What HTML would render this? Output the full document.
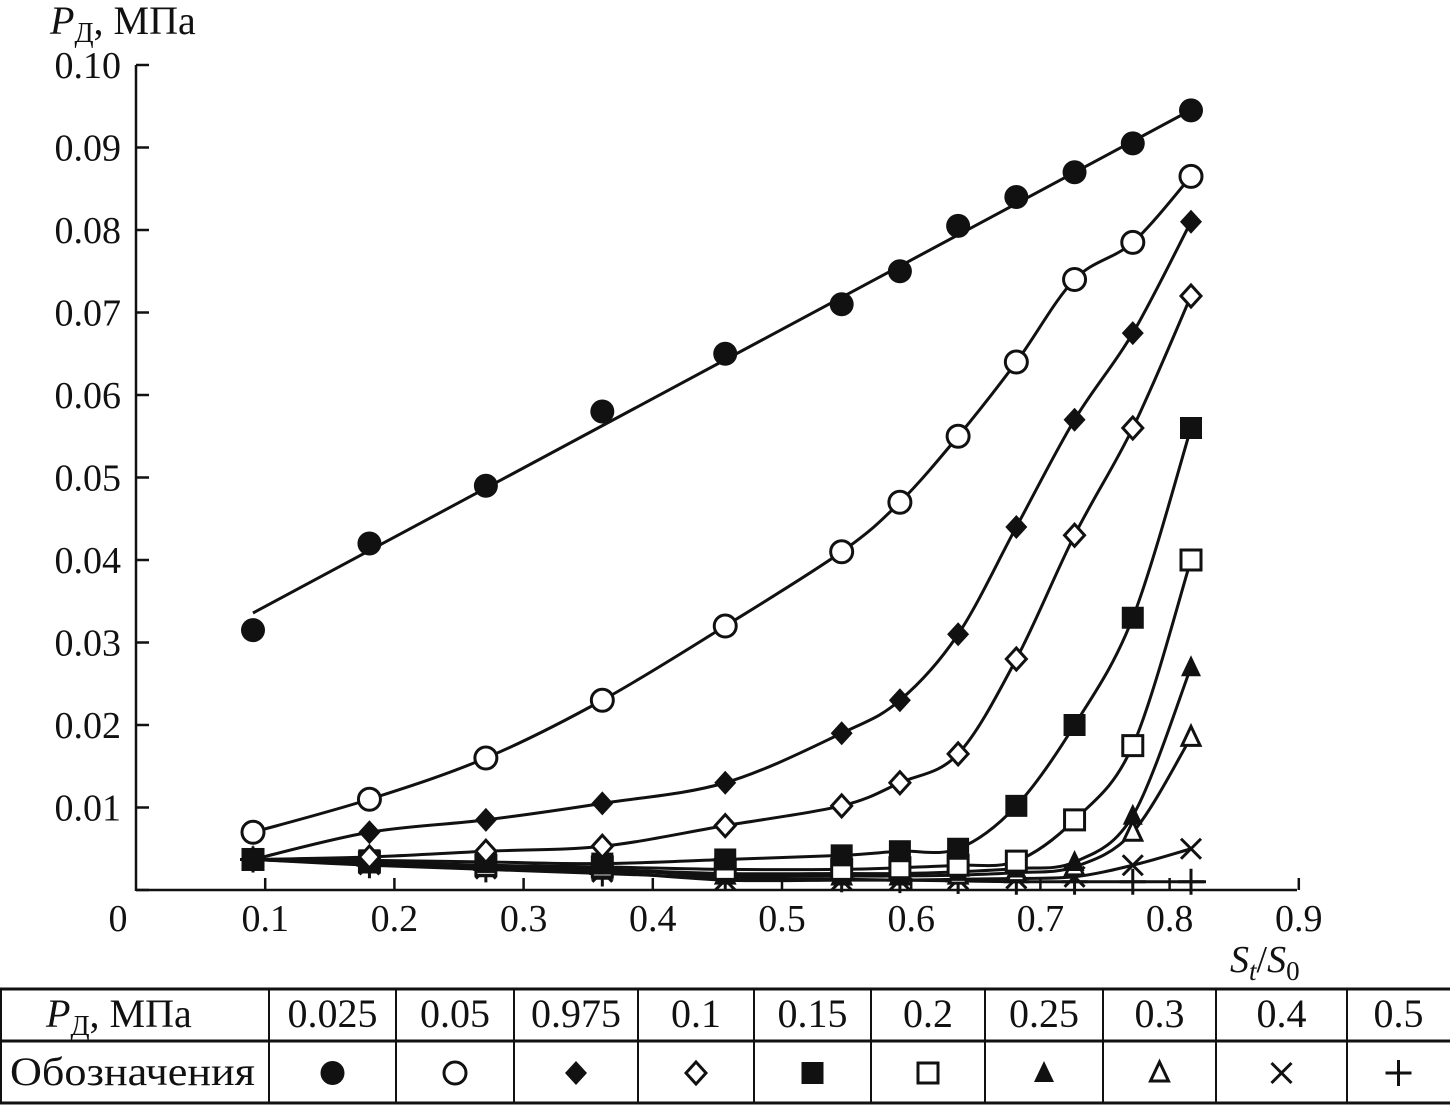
<!DOCTYPE html>
<html><head><meta charset="utf-8"><style>
html,body{margin:0;padding:0;background:#fff;}
svg{display:block;}
text{font-family:"Liberation Serif",serif;fill:#111;}
</style></head><body>
<svg id="s" width="1450" height="1105" viewBox="0 0 1450 1105" xmlns="http://www.w3.org/2000/svg">
<g stroke="#111" stroke-width="2.5" fill="none">
<line x1="136" y1="65" x2="136" y2="891"/>
<line x1="136" y1="890" x2="1297" y2="890"/>
</g>
<g id="ticks" stroke="#111" stroke-width="2.5"></g>
<g id="labels" font-size="38"></g>
<text x="50" y="34" font-size="40"><tspan font-style="italic">P</tspan><tspan font-size="28" dy="8">Д</tspan><tspan dy="-8">, МПа</tspan></text>
<text x="1230" y="972" font-size="38"><tspan font-style="italic">S</tspan><tspan font-style="italic" font-size="27" dy="8">t</tspan><tspan dy="-8">/</tspan><tspan font-style="italic">S</tspan><tspan font-size="27" dy="8">0</tspan></text>
<g id="curves" stroke="#111" stroke-width="3" fill="none"></g>
<g id="marks"></g>
<g id="table" stroke="#111" stroke-width="3" fill="none">
<line x1="0" y1="989" x2="1450" y2="989"/>
<line x1="0" y1="1041" x2="1450" y2="1041"/>
<line x1="0" y1="1103" x2="1450" y2="1103"/>
<line x1="1" y1="989" x2="1" y2="1103" stroke-width="2"/>
</g>
<g id="tlabels" font-size="40"></g>
</svg>
<script>
const NS="http://www.w3.org/2000/svg";
function el(p,t,a,txt){const e=document.createElementNS(NS,t);for(const k in a)e.setAttribute(k,a[k]);if(txt!==undefined)e.textContent=txt;document.getElementById(p).appendChild(e);return e;}
const X=v=>136+v*1292, Y=v=>890-v*8250;
for(let i=0;i<=10;i++){const y=890-i*82.5;el("ticks","line",{x1:136,y1:y,x2:149,y2:y});
 if(i>0) el("labels","text",{x:121,y:y+13,"text-anchor":"end"},(i/100).toFixed(2));}
for(let i=1;i<=9;i++){const x=X(i/10);el("ticks","line",{x1:x,y1:890,x2:x,y2:878});}
for(let i=0;i<=9;i++){el("labels","text",{x:i==0?118:X(i/10),y:931,"text-anchor":"middle"},i==0?"0":(i/10).toFixed(1));}
const xs=[0.09,0.18,0.27,0.36,0.455,0.545,0.59,0.635,0.68,0.725,0.77,0.815].map(v=>136+ (v-0.09)/(0.815-0.09)*(1191-253)+117);
const S=[
 ["fc",[0.0315,0.042,0.049,0.058,0.065,0.071,0.075,0.0805,0.084,0.087,0.0905,0.0945]],
 ["oc",[0.007,0.011,0.016,0.023,0.032,0.041,0.047,0.055,0.064,0.074,0.0785,0.0865]],
 ["fd",[0.0037,0.007,0.0085,0.0105,0.013,0.019,0.023,0.031,0.044,0.057,0.0675,0.081]],
 ["od",[0.0037,0.004,0.0047,0.0053,0.0078,0.0102,0.013,0.0165,0.028,0.043,0.056,0.072]],
 ["fs",[0.0037,0.0036,0.0034,0.0032,0.0037,0.0042,0.0047,0.005,0.0102,0.02,0.033,0.056]],
 ["os",[0.0037,0.0034,0.003,0.0028,0.0025,0.0025,0.0027,0.003,0.0035,0.0085,0.0175,0.04]],
 ["ft",[0.0037,0.0033,0.0028,0.0025,0.002,0.002,0.002,0.0022,0.0026,0.0034,0.009,0.027]],
 ["ot",[0.0037,0.0032,0.0027,0.0024,0.0018,0.0017,0.0017,0.0018,0.0021,0.0028,0.007,0.0185]],
 ["x",[0.0037,0.0031,0.0026,0.0022,0.0012,0.0012,0.0012,0.0013,0.0014,0.0016,0.003,0.005]],
 ["p",[0.0037,0.003,0.0025,0.002,0.0015,0.0013,0.0012,0.0011,0.001,0.001,0.001,0.001]]
];
function path(pts){let d="M"+pts[0][0]+","+pts[0][1];for(let i=0;i<pts.length-1;i++){const p0=pts[i-1]||pts[i],p1=pts[i],p2=pts[i+1],p3=pts[i+2]||p2;
 const c1=[p1[0]+(p2[0]-p0[0])/6,p1[1]+(p2[1]-p0[1])/6],c2=[p2[0]-(p3[0]-p1[0])/6,p2[1]-(p3[1]-p1[1])/6];
 d+=" C"+c1.join(",")+" "+c2.join(",")+" "+p2.join(",");}return d;}
function mark(g,t,x,y,s){s=s||1;const k=s;
 if(t=="fc")el(g,"circle",{cx:x,cy:y,r:12*k,fill:"#111"});
 if(t=="oc")el(g,"circle",{cx:x,cy:y,r:11*k,fill:"#fff",stroke:"#111","stroke-width":3});
 if(t=="fd")el(g,"polygon",{points:`${x},${y-12*k} ${x+11*k},${y} ${x},${y+12*k} ${x-11*k},${y}`,fill:"#111"});
 if(t=="od")el(g,"polygon",{points:`${x},${y-11*k} ${x+10*k},${y} ${x},${y+11*k} ${x-10*k},${y}`,fill:"#fff",stroke:"#111","stroke-width":3});
 if(t=="fs")el(g,"rect",{x:x-11*k,y:y-11*k,width:22*k,height:22*k,fill:"#111"});
 if(t=="os")el(g,"rect",{x:x-10*k,y:y-10*k,width:20*k,height:20*k,fill:"#fff",stroke:"#111","stroke-width":3});
 if(t=="ft")el(g,"polygon",{points:`${x},${y-12*k} ${x+10*k},${y+9*k} ${x-10*k},${y+9*k}`,fill:"#111"});
 if(t=="ot")el(g,"polygon",{points:`${x},${y-11*k} ${x+9*k},${y+8*k} ${x-9*k},${y+8*k}`,fill:"#fff",stroke:"#111","stroke-width":3});
 if(t=="x"){el(g,"line",{x1:x-10*k,y1:y-10*k,x2:x+10*k,y2:y+10*k,stroke:"#111","stroke-width":3});el(g,"line",{x1:x+10*k,y1:y-10*k,x2:x-10*k,y2:y+10*k,stroke:"#111","stroke-width":3});}
 if(t=="p"){el(g,"line",{x1:x-13*k,y1:y,x2:x+13*k,y2:y,stroke:"#111","stroke-width":3});el(g,"line",{x1:x,y1:y-13*k,x2:x,y2:y+13*k,stroke:"#111","stroke-width":3});}
}
S.slice().reverse().forEach(([t,v])=>{
 let pts=v.map((y,i)=>[xs[i],Y(y)]);
 let lp=pts.slice();
 if(t=="fc"){ el("curves","path",{d:`M253,613 Q700,372 1191,110`}); return; }
 if(t=="p") lp[lp.length-1]=[xs[11]+15,Y(0.001)];
 el("curves","path",{d:path(lp)});
});
S.slice().reverse().forEach(([t,v])=>{v.forEach((y,i)=>mark("marks",t,xs[i],Y(y)));});
const cols=[0,269,396,514,638,754,871,985,1103,1216,1347,1450];
for(let i=1;i<cols.length-1;i++)el("table","line",{x1:cols[i],y1:989,x2:cols[i],y2:1103,"stroke-width":2});
const vals=["0.025","0.05","0.975","0.1","0.15","0.2","0.25","0.3","0.4","0.5"];
const tt=el("tlabels","text",{x:46,y:1027});
tt.innerHTML='<tspan font-style="italic">P</tspan><tspan font-size="28" dy="8">Д</tspan><tspan dy="-8">, МПа</tspan>';
el("tlabels","text",{x:10,y:1085,textLength:245,lengthAdjust:"spacingAndGlyphs"},"Обозначения");
const types=["fc","oc","fd","od","fs","os","ft","ot","x","p"];
for(let i=0;i<10;i++){const cx=(cols[i+1]+cols[i+2])/2;
 el("tlabels","text",{x:cx,y:1027,"text-anchor":"middle"},vals[i]);
 mark("tlabels",types[i],cx,1073,1);}
</script>
</body></html>
